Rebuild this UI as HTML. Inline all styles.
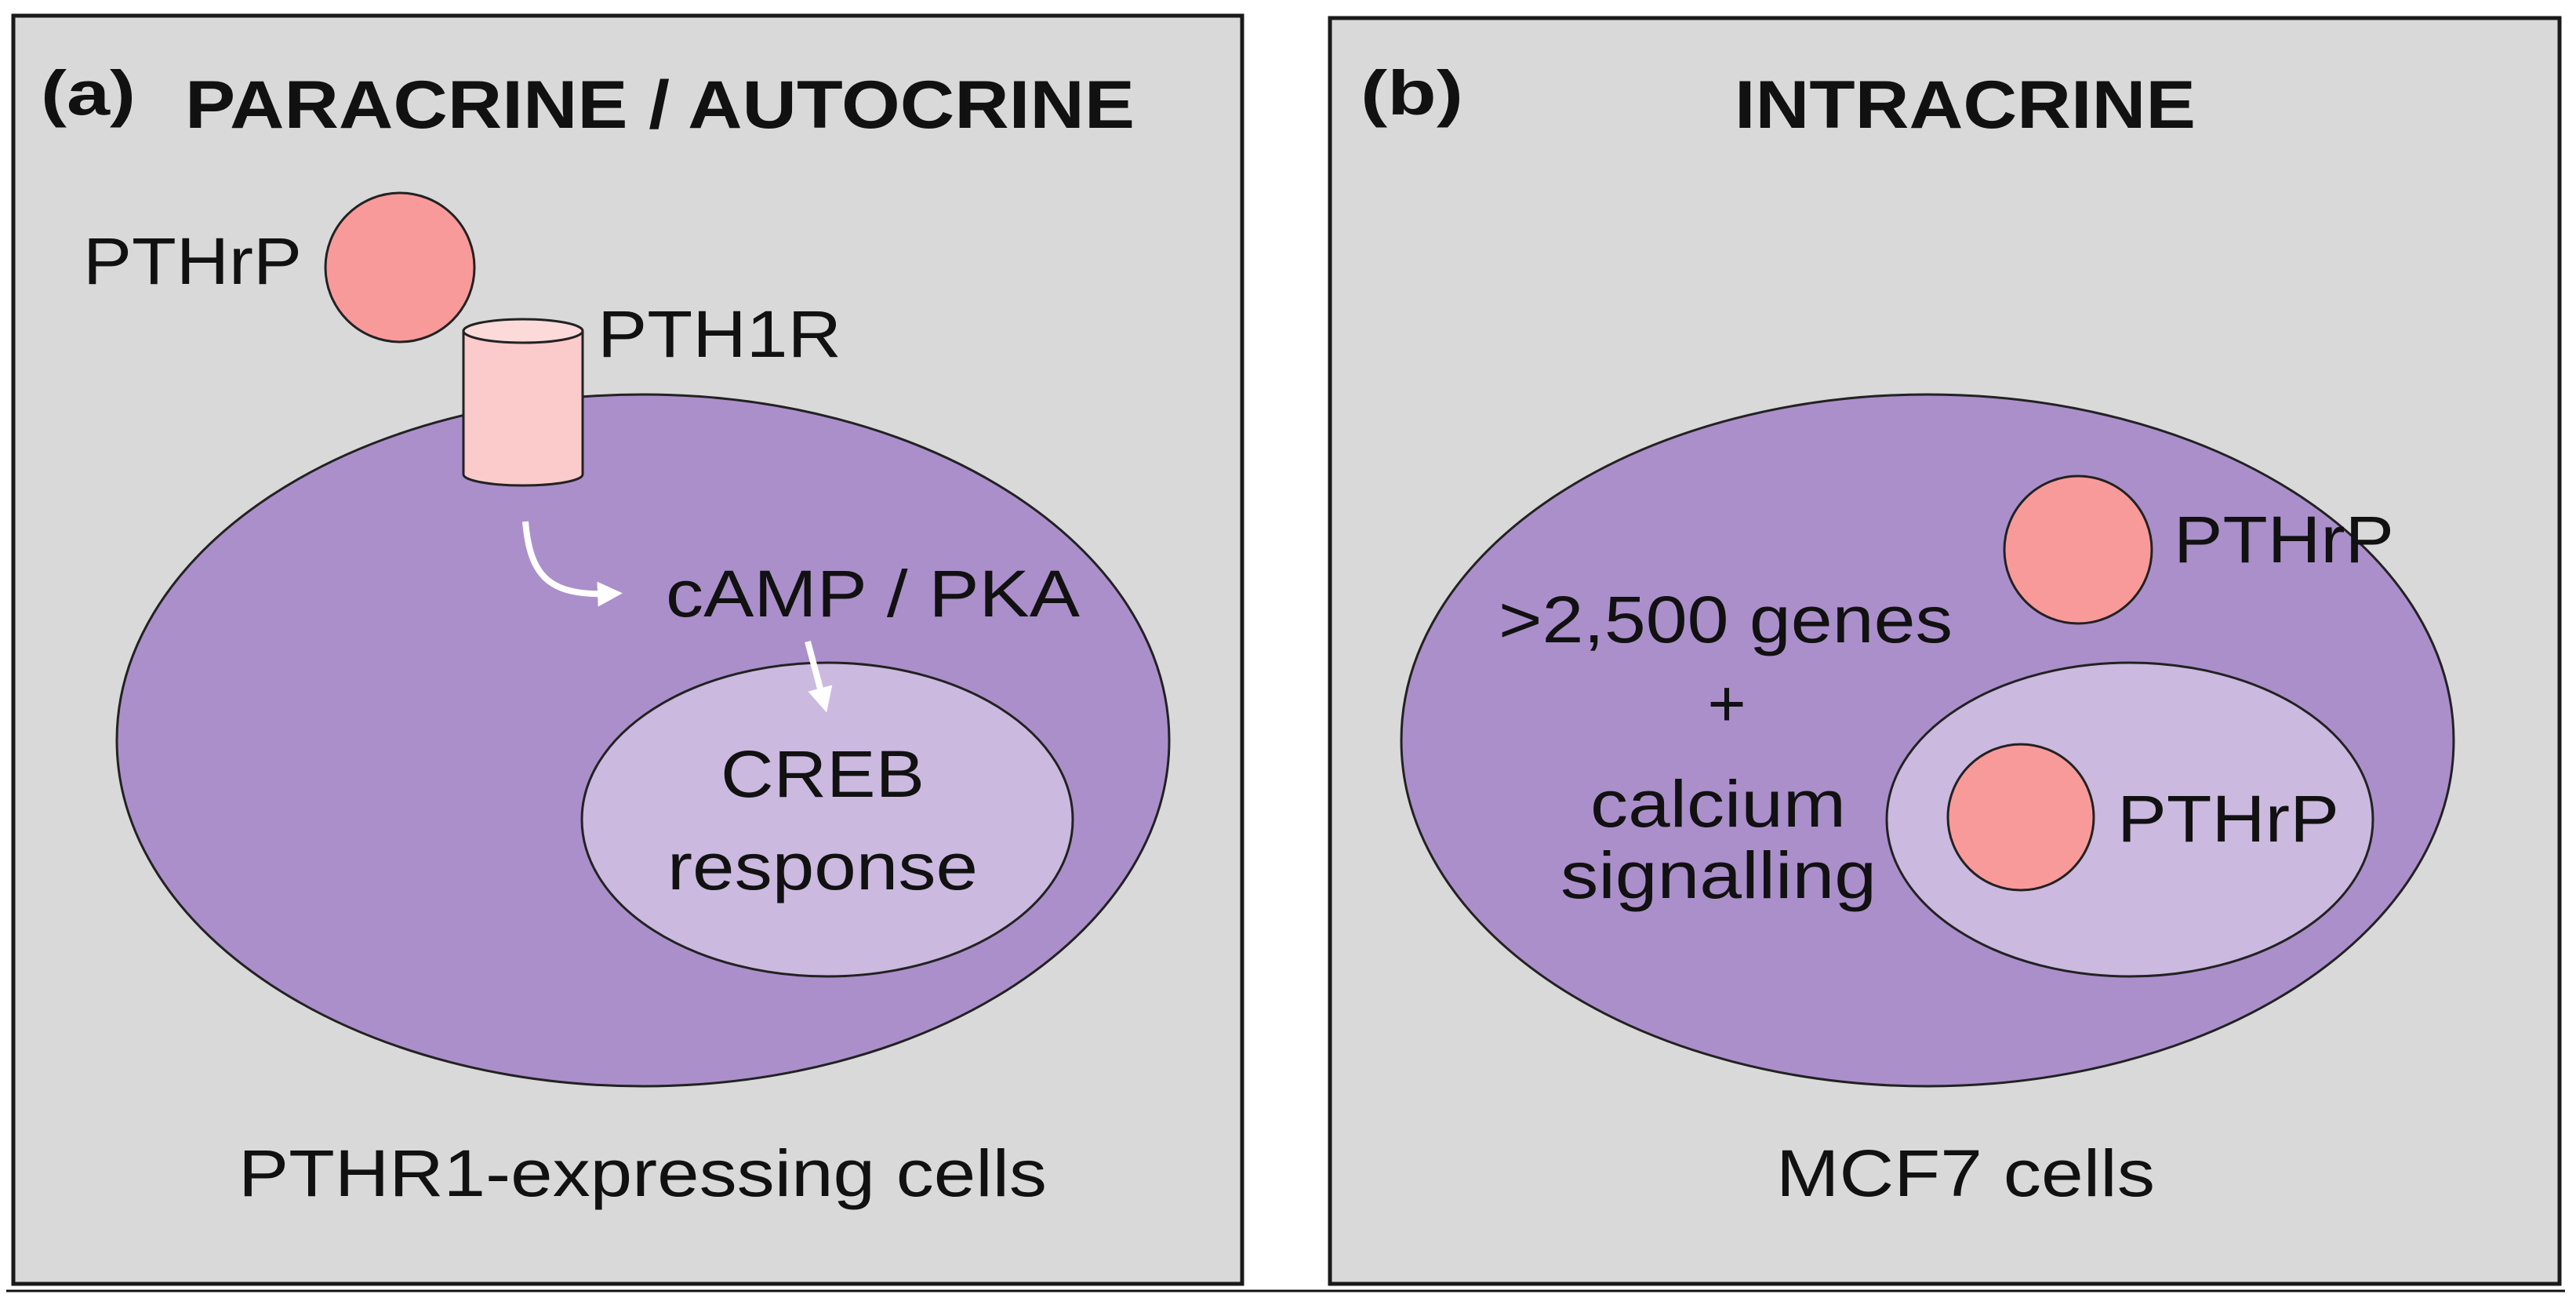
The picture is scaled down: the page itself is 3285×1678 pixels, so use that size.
<!DOCTYPE html>
<html><head><meta charset="utf-8"><style>html,body{margin:0;padding:0;background:#fff}svg{display:block}</style></head>
<body>
<svg width="3285" height="1678" viewBox="0 0 3285 1678" xmlns="http://www.w3.org/2000/svg" font-family="Liberation Sans, Arial, sans-serif" fill="#111">
<defs>
<marker id="ah" markerWidth="4" markerHeight="4" refX="2" refY="2" orient="auto" markerUnits="strokeWidth"><path d="M0,0 L4,2 L0,4 z" fill="#fff"/></marker>
</defs>
<line x1="8" y1="1646" x2="3271" y2="1646" stroke="#111" stroke-width="3"/>
<!-- panel a -->
<rect x="17" y="20" width="1567" height="1617" fill="#d9d9d9" stroke="#1a1a1a" stroke-width="5"/>
<text x="52" y="146" font-size="80" font-weight="bold" textLength="121" lengthAdjust="spacingAndGlyphs">(a)</text>
<text x="236" y="163" font-size="86" font-weight="bold" textLength="1211" lengthAdjust="spacingAndGlyphs">PARACRINE / AUTOCRINE</text>
<ellipse cx="820" cy="944" rx="671" ry="441" fill="#ab8fcb" stroke="#222" stroke-width="3"/>
<ellipse cx="1055" cy="1045" rx="313" ry="200" fill="#cbb9df" stroke="#222" stroke-width="3"/>
<circle cx="510" cy="341" r="95" fill="#f99a9a" stroke="#222" stroke-width="3"/>
<text x="106" y="362" font-size="84" textLength="279" lengthAdjust="spacingAndGlyphs">PTHrP</text>
<!-- cylinder -->
<path d="M591,422 L591,605 A76,14 0 0 0 743,605 L743,422 Z" fill="#fbcaca" stroke="#222" stroke-width="3"/>
<ellipse cx="667" cy="422" rx="76" ry="15" fill="#fcdada" stroke="#222" stroke-width="3"/>
<text x="762" y="455" font-size="84" textLength="311" lengthAdjust="spacingAndGlyphs">PTH1R</text>
<path d="M670,665 C676,735 700,760 778,757" fill="none" stroke="#fff" stroke-width="8" marker-end="url(#ah)"/>
<line x1="1030" y1="818" x2="1050" y2="893" stroke="#fff" stroke-width="8" marker-end="url(#ah)"/>
<text x="849" y="786" font-size="84" textLength="528" lengthAdjust="spacingAndGlyphs">cAMP / PKA</text>
<text x="919" y="1016" font-size="84" textLength="260" lengthAdjust="spacingAndGlyphs">CREB</text>
<text x="851" y="1134" font-size="84" textLength="396" lengthAdjust="spacingAndGlyphs">response</text>
<text x="304" y="1525" font-size="84" textLength="1031" lengthAdjust="spacingAndGlyphs">PTHR1-expressing cells</text>
<!-- panel b -->
<rect x="1696" y="23" width="1568" height="1614" fill="#d9d9d9" stroke="#1a1a1a" stroke-width="5"/>
<text x="1735" y="146" font-size="80" font-weight="bold" textLength="131" lengthAdjust="spacingAndGlyphs">(b)</text>
<text x="2212" y="163" font-size="86" font-weight="bold" textLength="588" lengthAdjust="spacingAndGlyphs">INTRACRINE</text>
<ellipse cx="2458" cy="944" rx="671" ry="441" fill="#ab8fcb" stroke="#222" stroke-width="3"/>
<ellipse cx="2716" cy="1045" rx="310" ry="200" fill="#cbb9df" stroke="#222" stroke-width="3"/>
<circle cx="2650" cy="701" r="94" fill="#f99a9a" stroke="#222" stroke-width="3"/>
<text x="2772" y="717" font-size="84" textLength="281" lengthAdjust="spacingAndGlyphs">PTHrP</text>
<circle cx="2577" cy="1042" r="93" fill="#f99a9a" stroke="#222" stroke-width="3"/>
<text x="2700" y="1073" font-size="84" textLength="283" lengthAdjust="spacingAndGlyphs">PTHrP</text>
<text x="1911" y="819" font-size="84" textLength="579" lengthAdjust="spacingAndGlyphs">&gt;2,500 genes</text>
<text x="2202" y="926" font-size="84" text-anchor="middle">+</text>
<text x="2028" y="1054" font-size="84" textLength="326" lengthAdjust="spacingAndGlyphs">calcium</text>
<text x="1990" y="1145" font-size="84" textLength="403" lengthAdjust="spacingAndGlyphs">signalling</text>
<text x="2265" y="1525" font-size="84" textLength="483" lengthAdjust="spacingAndGlyphs">MCF7 cells</text>
</svg>
</body></html>
